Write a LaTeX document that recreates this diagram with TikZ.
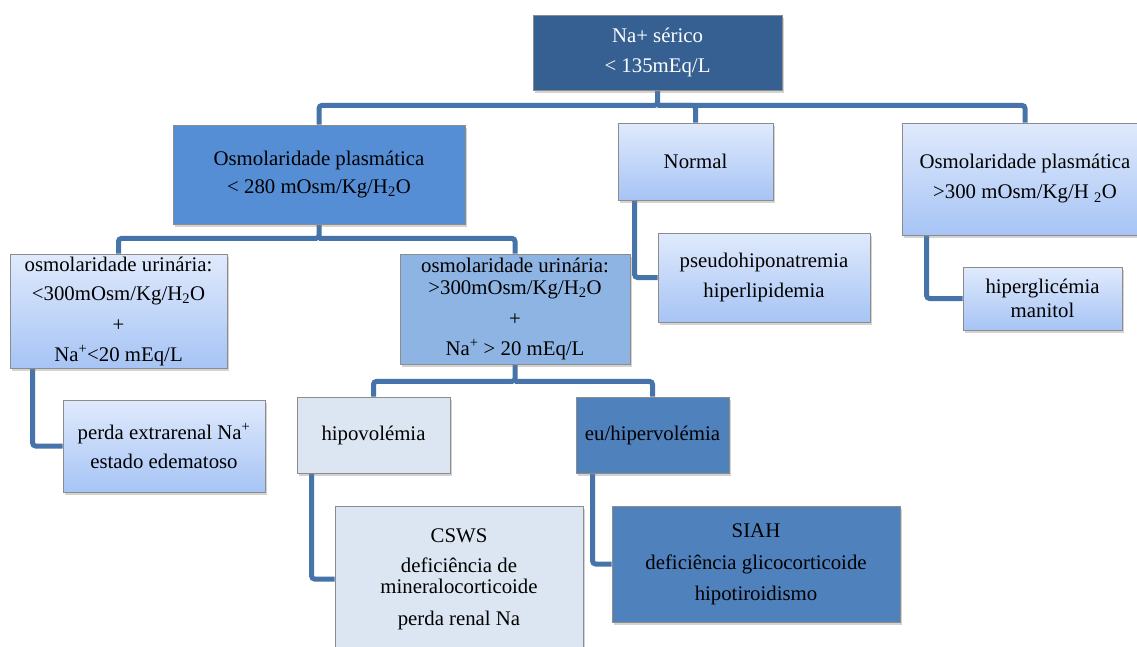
\documentclass[tikz,border=0pt]{standalone}
\usepackage{fontspec}
\setmainfont{Liberation Serif}
\usetikzlibrary{shadows}
\definecolor{topc}{RGB}{55,96,146}
\definecolor{midc}{RGB}{85,142,213}
\definecolor{lightc}{RGB}{141,180,226}
\definecolor{paleC}{RGB}{220,230,242}
\definecolor{accentc}{RGB}{79,129,189}
\definecolor{gtop}{RGB}{224,234,252}
\definecolor{gbot}{RGB}{166,196,245}
\definecolor{boxborder}{RGB}{140,140,140}
\definecolor{connc}{RGB}{70,115,170}
\pgfdeclarelayer{bg}
\pgfsetlayers{bg,main}
\begin{document}
\begin{tikzpicture}[x=1pt,y=-1pt,
  box/.style={draw=boxborder, line width=0.8pt, inner sep=0pt, align=center,
    font=\fontsize{20.8}{24}\selectfont,
    drop shadow={opacity=0.35, shadow xshift=2pt, shadow yshift=-3pt}},
  grad/.style={box, top color=gtop, bottom color=gbot},
  conn/.style={draw=connc, line width=5pt, rounded corners=3pt}]
\useasboundingbox (0,0) rectangle (1137,646);
\clip (0,0) rectangle (1137,646);

\node[box, fill=topc, text=white, minimum width=249pt, minimum height=75pt] (top) at (657.5,52.5)
  {Na+ sérico\\[6pt]< 135mEq/L};
\node[box, fill=midc, minimum width=292pt, minimum height=99pt] (osmP) at (319,174.5)
  {Osmolaridade plasmática\\[4pt]< 280 mOsm/Kg/H\textsubscript{2}O};
\node[grad, minimum width=155pt, minimum height=77pt] (normal) at (695.5,161.5) {Normal};
\node[grad, minimum width=246pt, minimum height=112pt] (osmH) at (1025,179)
  {Osmolaridade plasmática\\[6pt]>300 mOsm/Kg/H \textsubscript{2}O};
\node[grad, minimum width=212pt, minimum height=89pt] (pseudo) at (764,277.5)
  {pseudohiponatremia\\[6pt]hiperlipidemia};
\node[grad, minimum width=159pt, minimum height=63pt] (hiper) at (1042.5,298.5)
  {hiperglicémia\\[0pt]manitol};
\node[grad, minimum width=217pt, minimum height=114pt] (uriL) at (118.5,311)
  {osmolaridade urinária:\\[5pt]<300mOsm/Kg/H\textsubscript{2}O\\[7pt]+\\[6pt]Na\textsuperscript{+}<20 mEq/L};
\node[box, fill=lightc, minimum width=230pt, minimum height=110pt] (uriH) at (515,309)
  {osmolaridade urinária:\\[-2pt]>300mOsm/Kg/H\textsubscript{2}O\\[7pt]+\\[6pt]Na\textsuperscript{+} > 20 mEq/L};
\node[grad, minimum width=202pt, minimum height=92pt] (perda) at (164,446)
  {perda extrarenal Na\textsuperscript{+}\\[5pt]estado edematoso};
\node[box, fill=paleC, minimum width=153pt, minimum height=76pt] (hipo) at (373.5,435) {hipovolémia};
\node[box, fill=accentc, minimum width=153pt, minimum height=76pt] (euhip) at (652.5,435) {eu/hipervolémia};
\node[box, fill=paleC, minimum width=248pt, minimum height=146pt] (csws) at (459,579)
  {CSWS\\[6pt]deficiência de\\[-3pt]mineralocorticoide\\[8pt]perda renal Na};
\node[box, fill=accentc, minimum width=288pt, minimum height=116pt] (siah) at (756,564)
  {SIAH\\[8pt]deficiência glicocorticoide\\[7pt]hipotiroidismo};

\begin{pgfonlayer}{bg}
\draw[conn] (top.south) -- ++(0,15) -| (osmP.north);
\draw[conn] (top.south) ++(0,15) -| (normal.north);
\draw[conn] (top.south) ++(0,15) -| (osmH.north);
\draw[conn] (osmP.south) -- ++(0,14) -| (uriL.north);
\draw[conn] (osmP.south) ++(0,14) -| (uriH.north);
\draw[conn] (uriH.south) -- ++(0,17) -| (hipo.north);
\draw[conn] (uriH.south) ++(0,17) -| (euhip.north);
\draw[conn] ([xshift=23pt]uriL.south west) |- (perda.west);
\draw[conn] ([xshift=17pt]normal.south west) |- (pseudo.west);
\draw[conn] ([xshift=25pt]osmH.south west) |- (hiper.west);
\draw[conn] ([xshift=15pt]hipo.south west) |- (csws.west);
\draw[conn] ([xshift=17pt]euhip.south west) |- (siah.west);
\end{pgfonlayer}
\end{tikzpicture}
\end{document}
